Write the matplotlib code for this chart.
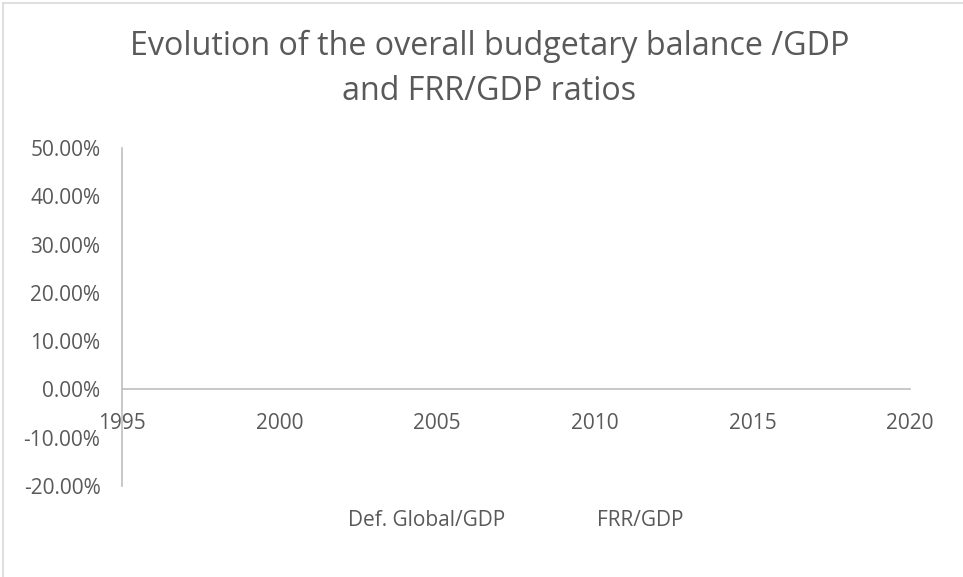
import matplotlib
matplotlib.use('Agg')
import matplotlib.pyplot as plt
from matplotlib.ticker import FuncFormatter

# Series as shown in the chart (no visible points were plotted)
years = []
def_global_gdp = []
frr_gdp = []

series_names = ['Def. Global/GDP', 'FRR/GDP']
x_ticks = [1995, 2000, 2005, 2010, 2015, 2020]
y_ticks = [-0.20, -0.10, 0.0, 0.10, 0.20, 0.30, 0.40, 0.50]

text_col = '#595959'
axis_col = '#bfbfbf'
plt.rcParams['font.family'] = ['Open Sans', 'DejaVu Sans']

fig = plt.figure(figsize=(9.63, 5.77), dpi=100)
ax = fig.add_axes([122 / 963, 1 - 486 / 577, (910 - 122) / 963, (486 - 148) / 577])

l1, = ax.plot(years, def_global_gdp, linestyle='none', label=series_names[0])
l2, = ax.plot(years, frr_gdp, linestyle='none', label=series_names[1])

ax.set_xlim(1995, 2020)
ax.set_ylim(-0.20, 0.50)
ax.set_xticks(x_ticks)
ax.set_yticks(y_ticks)
ax.yaxis.set_major_formatter(FuncFormatter(lambda v, p: f'{v * 100:.2f}%'))

for s in ['top', 'right']:
    ax.spines[s].set_visible(False)
ax.spines['bottom'].set_position(('data', 0))
ax.spines['bottom'].set_color(axis_col)
ax.spines['left'].set_color(axis_col)
ax.spines['bottom'].set_linewidth(1.2)
ax.spines['left'].set_linewidth(1.2)
ax.tick_params(axis='both', length=0, labelsize=15, labelcolor=text_col)
ax.tick_params(axis='x', pad=17)
ax.tick_params(axis='y', pad=15.5)

fig.text(489.5 / 963, 1 - 55 / 577, 'Evolution of the overall budgetary balance /GDP',
         ha='center', va='baseline', fontsize=23.2, color=text_col)
fig.text(489.5 / 963, 1 - 100 / 577, 'and FRR/GDP ratios',
         ha='center', va='baseline', fontsize=23.2, color=text_col)

fig.legend(handles=[l1, l2], loc='center', bbox_to_anchor=(487 / 963, 1 - 520 / 577),
           ncol=2, frameon=False, fontsize=15, labelcolor=text_col,
           handlelength=2.0, handletextpad=0.8, columnspacing=1.6)

# light chart border on top and left edges
fig.add_artist(plt.Line2D([3 / 963, 3 / 963], [0, 1 - 3 / 577], color='#d9d9d9', lw=1.2))
fig.add_artist(plt.Line2D([3 / 963, 1], [1 - 3 / 577, 1 - 3 / 577], color='#d9d9d9', lw=1.2))

fig.savefig('out.png', dpi=100)
